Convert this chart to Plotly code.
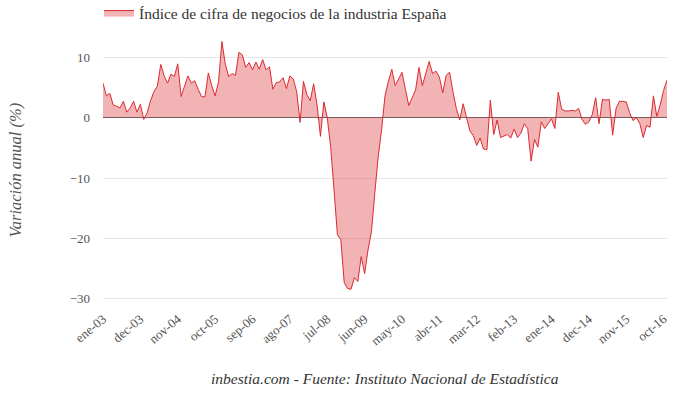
import plotly.graph_objects as go

MONTHS = ["ene", "feb", "mar", "abr", "may", "jun", "jul", "ago", "sep", "oct", "nov", "dec"]

# Monthly annual variation (%), Jan 2003 - Nov 2016
values = [
    5.7, 3.6, 4.0, 2.1, 1.9, 1.6, 2.7, 0.9, 1.6, 2.7, 0.9, 2.2,          # 2003
    -0.3, 0.8, 2.8, 4.3, 5.2, 8.8, 6.9, 5.7, 7.2, 6.8, 8.9, 3.5,         # 2004
    5.2, 6.9, 5.7, 6.1, 4.7, 3.5, 3.4, 7.4, 5.3, 3.6, 5.9, 12.6,         # 2005
    8.8, 6.8, 7.3, 7.0, 10.8, 10.4, 8.3, 9.1, 7.9, 9.2, 8.0, 9.6,        # 2006
    7.9, 8.4, 4.7, 5.8, 5.9, 6.6, 4.8, 6.9, 6.4, 4.3, -0.8, 6.0,         # 2007
    3.8, 2.8, 5.6, 2.1, -3.1, 2.6, 0.0, -4.8, -12.0, -19.4, -20.2, -27.3,  # 2008
    -28.3, -28.4, -26.5, -27.1, -23.0, -25.8, -21.9, -18.9, -12.5, -6.5, -2.0, 3.6,  # 2009
    6.0, 8.0, 5.3, 6.4, 7.5, 4.7, 2.0, 3.3, 4.6, 8.3, 5.3, 7.3,          # 2010
    9.3, 7.3, 7.7, 6.7, 4.1, 7.0, 7.5, 4.3, 1.5, -0.4, 2.3, 0.0,         # 2011
    -2.2, -3.0, -4.6, -3.4, -5.2, -5.3, 2.9, -2.8, -0.4, -3.3, -3.0, -2.8,  # 2012
    -3.4, -1.9, -3.3, -2.6, -1.0, -1.8, -7.2, -3.6, -4.9, -0.7, -1.8, -1.0,  # 2013
    -0.2, -1.8, 4.2, 1.4, 1.1, 1.1, 1.2, 1.1, 1.5, -0.3, -1.1, -0.7,     # 2014
    0.5, 3.3, -1.0, 3.0, 2.9, 3.0, -2.9, 1.5, 2.7, 2.7, 2.6, 0.8,        # 2015
    -0.5, 0.0, -1.0, -3.3, -1.3, -1.6, 3.6, 0.2, 2.1, 4.5, 6.2,          # 2016
]

start_year = 2003
categories = []
for k in range(len(values)):
    m = k % 12
    y = start_year + k // 12
    categories.append(f"{MONTHS[m]}-{y % 100:02d}")

tick_step = 11
tickvals = categories[::tick_step]
y_ticks = [-30, -20, -10, 0, 10]

series_name = "Índice de cifra de negocios de la industria España"
source_text = "inbestia.com - Fuente: Instituto Nacional de Estadística"
y_title = "Variación anual (%)"

FONT = "Liberation Serif"

fig = go.Figure()
fig.add_trace(go.Scatter(
    x=categories, y=values, mode="lines", name=series_name,
    line=dict(color="#dc2a30", width=1),
    fill="tozeroy", fillcolor="rgba(217,38,43,0.35)",
))

fig.update_layout(
    width=680, height=394,
    margin=dict(l=103, r=13, t=33, b=86, autoexpand=False),
    paper_bgcolor="white", plot_bgcolor="white",
    font=dict(family=FONT, color="#666666"),
    showlegend=True,
    legend=dict(orientation="h", xref="container", yref="container",
                x=99 / 680, xanchor="left", y=1 - 13 / 394, yanchor="middle",
                font=dict(family=FONT, size=15.5, color="#333333"),
                bgcolor="rgba(0,0,0,0)"),
    xaxis=dict(
        type="category", range=[0, len(values) - 1], automargin=False,
        tickmode="array", tickvals=tickvals, ticktext=tickvals,
        tickangle=-40, tickfont=dict(family=FONT, size=13, color="#555555"),
        showgrid=False, showline=False, zeroline=False, ticks="",
    ),
    yaxis=dict(
        range=[-31.5, 14], tickmode="array", tickvals=y_ticks, automargin=False,
        tickfont=dict(family=FONT, size=13, color="#555555"),
        gridcolor="#e6e6e6", gridwidth=1,
        zeroline=True, zerolinecolor="#666666", zerolinewidth=1,
        showline=False, ticks="", ticklabelstandoff=12,
    ),
    annotations=[
        dict(text=source_text, xref="paper", yref="paper", x=0.5, y=-0.255,
             xanchor="center", yanchor="middle", showarrow=False,
             font=dict(family=FONT, size=15.5, color="#333333", style="italic")),
        dict(text=y_title, xref="paper", yref="paper", x=(15 - 103) / 564, y=0.5,
             xanchor="center", yanchor="middle", textangle=-90, showarrow=False,
             font=dict(family=FONT, size=16.5, color="#555555", style="italic")),
    ],
)

fig.write_html("out.html", config={"displayModeBar": False},
               post_script="document.body.style.margin='0';document.body.style.padding='0';")
